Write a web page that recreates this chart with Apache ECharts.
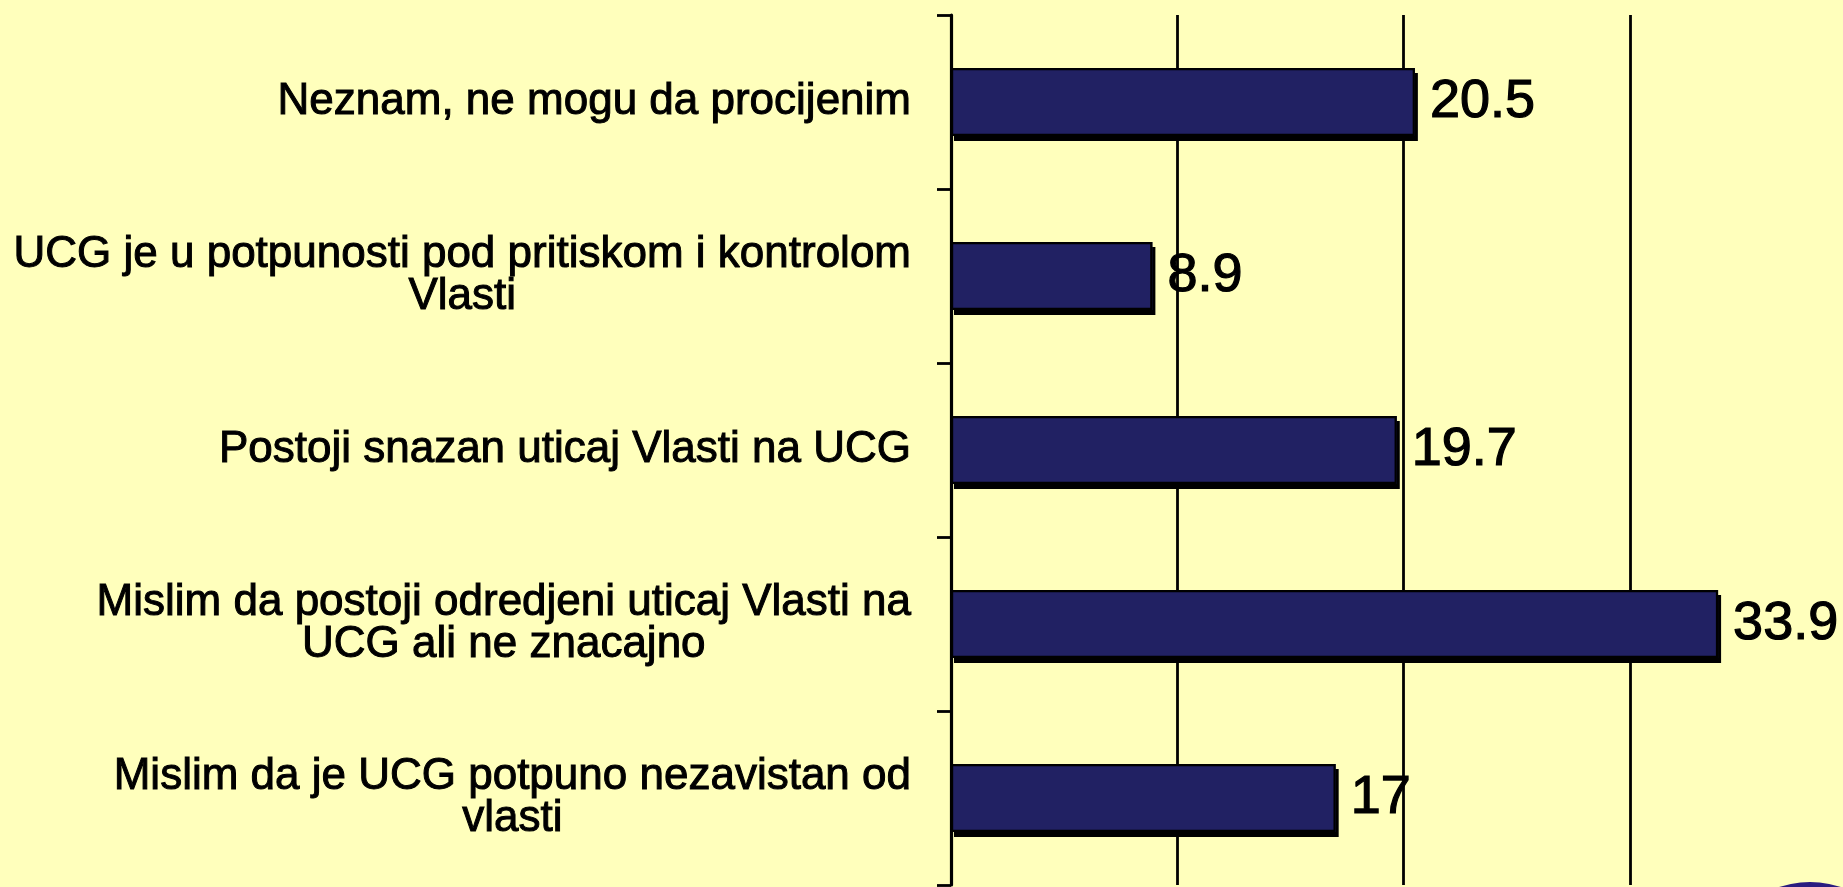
<!DOCTYPE html>
<html>
<head>
<meta charset="utf-8">
<script src="https://cdn.jsdelivr.net/npm/echarts@6/dist/echarts.min.js"></script>
<style>
html,body{margin:0;padding:0;background:#FFFFBC;}
#chart{width:1843px;height:887px;}
</style>
</head>
<body>
<div id="chart"></div>
<script>
var categories = [
  "Neznam, ne mogu da procijenim",
  "UCG je u potpunosti pod pritiskom i kontrolom\nVlasti",
  "Postoji snazan uticaj Vlasti na UCG",
  "Mislim da postoji odredjeni uticaj Vlasti na\nUCG ali ne znacajno",
  "Mislim da je UCG potpuno nezavistan od\nvlasti"
];
var values = [20.5, 8.9, 19.7, 33.9, 17];
var axisMin = 0, axisMax = 39.42, axisStep = 10;

var chart = echarts.init(document.getElementById('chart'), null, {renderer: 'canvas'});
var font = "'Liberation Sans', Arial, sans-serif";
chart.setOption({
  backgroundColor: '#FFFFBC',
  animation: false,
  grid: {left: 951, top: 15, right: 0, height: 870, containLabel: false},
  xAxis: {
    type: 'value', min: axisMin, max: axisMax, interval: axisStep, position: 'top',
    axisLine: {show: false}, axisTick: {show: false}, axisLabel: {show: false},
    splitLine: {show: true, showMaxLine: false, lineStyle: {color: '#000', width: 2.8}}
  },
  yAxis: {
    type: 'category', data: categories, inverse: true,
    axisLine: {show: true, lineStyle: {color: '#000', width: 3.2}},
    axisTick: {show: true, length: 14, lineStyle: {color: '#000', width: 2.8}},
    axisLabel: {
      margin: 40, color: '#000', fontFamily: font, fontSize: 44, lineHeight: 42,
      formatter: function (v) {
        return v.split('\n').map(function (l) { return '{c|' + l + '}'; }).join('\n');
      },
      rich: {c: {align: 'center', fontFamily: font, fontSize: 44, lineHeight: 42, color: '#000',
                 textBorderColor: '#000', textBorderWidth: 1}}
    }
  },
  series: [{
    type: 'bar', data: values, barWidth: 68, z: 2,
    itemStyle: {
      color: '#212163', borderWidth: 0,
      shadowColor: '#000', shadowOffsetX: 3, shadowOffsetY: 5, shadowBlur: 0
    },
    label: {
      show: true, position: 'right', distance: 15, color: '#000',
      fontFamily: font, fontSize: 54, textBorderColor: '#000', textBorderWidth: 1.2
    }
  }, {
    type: 'bar', data: values, barWidth: 68, barGap: '-100%', z: 3,
    itemStyle: {color: 'rgba(0,0,0,0)', borderColor: '#000', borderWidth: 2.2},
    label: {show: false}, silent: true
  }],
  graphic: [{
    type: 'circle', shape: {cx: 1810, cy: 980, r: 98},
    style: {fill: '#2B1C80'}, z: 10
  }]
});
</script>
</body>
</html>
